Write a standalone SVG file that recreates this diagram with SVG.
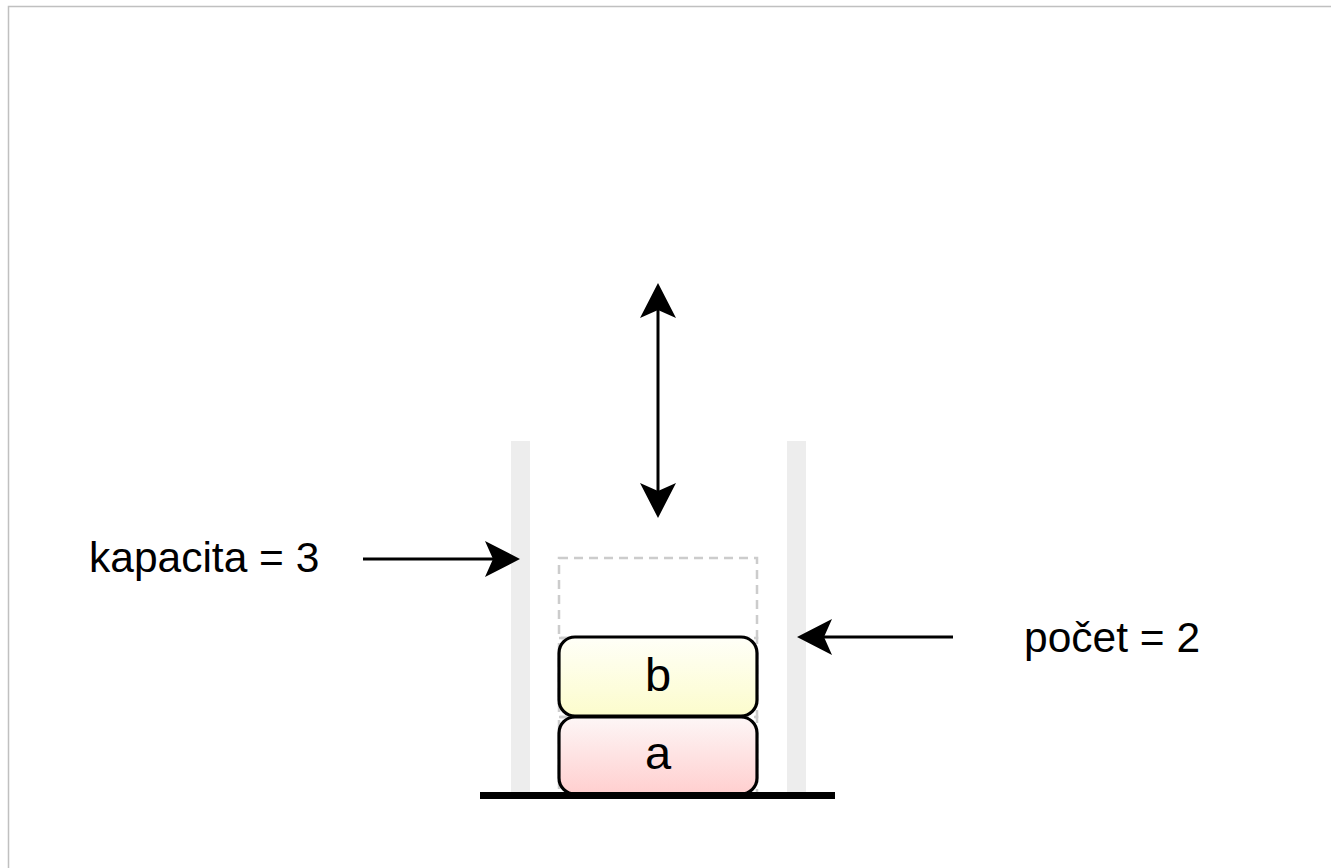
<svg xmlns="http://www.w3.org/2000/svg" width="1331" height="868" viewBox="0 0 1331 868">
  <style>
    .lbl { font-family: "Liberation Sans", Arial, sans-serif; font-size: 42.5px; fill: #000; }
    .item { font-family: "Liberation Sans", Arial, sans-serif; font-size: 47px; fill: #000; text-anchor: middle; }
    .wall { fill: #ededed; }
    .slot { fill: none; stroke: #cccccc; stroke-width: 2.5; stroke-dasharray: 9 6; }
    .box { stroke: #000; stroke-width: 3.2; }
    .conn { stroke: #000; stroke-width: 3; fill: none; }
  </style>
  <defs>
    <linearGradient id="gb" x1="0" y1="0" x2="0" y2="1">
      <stop offset="0" stop-color="#fffff8"/>
      <stop offset="1" stop-color="#fcfccc"/>
    </linearGradient>
    <linearGradient id="ga" x1="0" y1="0" x2="0" y2="1">
      <stop offset="0" stop-color="#fdf6f6"/>
      <stop offset="1" stop-color="#ffcfcf"/>
    </linearGradient>
    <marker id="arr" markerUnits="userSpaceOnUse" markerWidth="40" markerHeight="40" viewBox="-36 -20 40 40" refX="-10" refY="0" orient="auto-start-reverse">
      <path d="M0,0 L-35,-18 L-27,0 L-35,18 Z" fill="#000"/>
    </marker>
  </defs>
  <rect width="1331" height="868" fill="#fff"/>
  <rect x="8.5" y="6.5" width="1340" height="880" fill="none" stroke="#c0c0c0" stroke-width="1.5"/>

  <g id="wall-left"><rect class="wall" x="511" y="441" width="19" height="351"/></g>
  <g id="wall-right"><rect class="wall" x="787" y="441" width="19" height="351"/></g>

  <g id="slots">
    <rect class="slot" x="559" y="558" width="198" height="80"/>
    <rect class="slot" x="559" y="638" width="198" height="79"/>
    <rect class="slot" x="559" y="717" width="198" height="78"/>
  </g>

  <g id="node-b">
    <rect class="box" x="559" y="637" width="198" height="79" rx="16" fill="url(#gb)"/>
    <text class="item" x="658" y="691">b</text>
  </g>
  <g id="node-a">
    <rect class="box" x="559" y="717" width="198" height="77" rx="16" fill="url(#ga)"/>
    <text class="item" x="658" y="769">a</text>
  </g>

  <g id="base"><line x1="480" y1="795.5" x2="835" y2="795.5" stroke="#000" stroke-width="7"/></g>

  <g id="label-kapacita"><text class="lbl" x="89" y="572">kapacita = 3</text></g>
  <g id="label-pocet"><text class="lbl" x="1024" y="652">počet = 2</text></g>

  <g id="connectors">
    <line class="conn" x1="658" y1="293" x2="658" y2="508" marker-start="url(#arr)" marker-end="url(#arr)"/>
    <line class="conn" x1="363" y1="559" x2="510" y2="559" marker-end="url(#arr)"/>
    <line class="conn" x1="953" y1="637" x2="807" y2="637" marker-end="url(#arr)"/>
  </g>
</svg>
